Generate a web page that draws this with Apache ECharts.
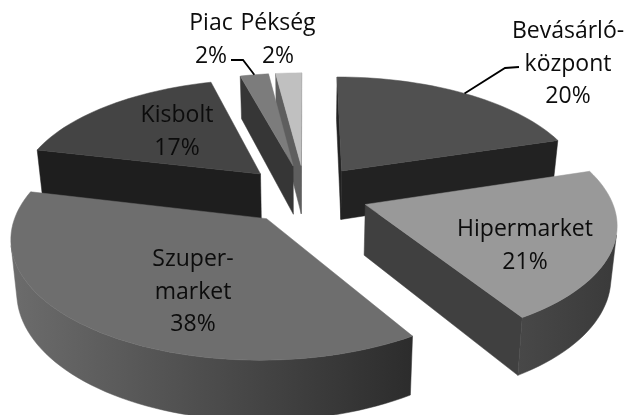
<!DOCTYPE html>
<html>
<head>
<meta charset="utf-8">
<style>
html,body{margin:0;padding:0;background:#fff;}
#chart{width:624px;height:415px;}
</style>
<script src="https://cdn.jsdelivr.net/npm/echarts@6/dist/echarts.min.js"></script>
</head>
<body>
<div id="chart"></div>
<script>
const names = ['Bevásárló-\nközpont', 'Hipermarket', 'Szuper-\nmarket', 'Kisbolt', 'Piac', 'Pékség'];
const shares = [20.2, 21.0, 37.5, 17.1, 2.2, 2.0];

const topColors = ['#505050', '#999999', '#6e6e6e', '#444444', '#7c7c7c', '#c0c0c0'];
const wallColors = ['#222222', '#404040', '#333333', '#1e1e1e', '#363636', '#5e5e5e'];
const rimColors = [['#222222', '#222222'], ['#484848', '#3a3a3a'], ['#6c6c6c', '#2c2c2c'], ['#1e1e1e', '#1e1e1e'], ['#363636', '#363636'], ['#5e5e5e', '#5e5e5e']];
const labelCenters = [[568, 64], [525, 246], [193, 292], [177, 132], [211, 40], [278, 40]];
//only two labels sit off their slice
const leaderElbows = {0: [[519, 67], [505, 68]], 4: [[231, 60], [243, 60]]};

//projection of the tilted pie, fitted on the picture
const cx = 305, cy = 194, radiusX = 244.5, radiusY = 113.5;
const perspective = 0.143, explode = 0.26, thickness = 50, bottomShrink = 0.98;

const total = shares.reduce((a, b) => a + b, 0);
const toRad = Math.PI / 180;
let acc = 0;
const slices = shares.map(function (v) {
    const start = acc / total * 360;
    acc += v;
    return {start, end: acc / total * 360, mid: (start + acc / total * 360) / 2};
});

function project(u, v, down) {
    const d = 1 + perspective * v;
    let x = radiusX * u / d;
    let y = cy - radiusY * v / d;
    if (down) {
        x *= bottomShrink;
        y += thickness / d;
    }
    return [cx + x, y];
}
//r=0 is the tip of the slice, r=1 the rim
function slicePoint(s, angle, r, down) {
    const ou = explode * Math.sin(s.mid * toRad);
    const ov = explode * Math.cos(s.mid * toRad);
    return project(ou + r * Math.sin(angle * toRad), ov + r * Math.cos(angle * toRad), down);
}
//clockwise on screen means the face looks at us
function facing(pts) {
    let area = 0;
    pts.forEach(function (p, i) {
        const q = pts[(i + 1) % pts.length];
        area += p[0] * q[1] - q[0] * p[1];
    });
    return area > 0;
}
function face(points, fill) {
    return {
        type: 'polygon',
        shape: {points},
        style: {fill, stroke: fill, lineWidth: 0.5}
    };
}
function renderSlice(params) {
    const i = params.dataIndex;
    const s = slices[i];
    const children = [];
    const tip = slicePoint(s, s.mid, 0, false);
    const tipDown = slicePoint(s, s.mid, 0, true);
    const steps = Math.max(4, Math.round((s.end - s.start) / 2));
    const angles = [];
    for (let k = 0; k <= steps; k++) {
        angles.push(s.start + (s.end - s.start) * k / steps);
    }
    const rim = angles.map(a => slicePoint(s, a, 1, false));
    const rimDown = angles.map(a => slicePoint(s, a, 1, true));

    const startWall = [rim[0], tip, tipDown, rimDown[0]];
    const endWall = [tip, rim[steps], rimDown[steps], tipDown];
    if (facing(startWall)) children.push(face(startWall, wallColors[i]));
    if (facing(endWall)) children.push(face(endWall, wallColors[i]));

    //outer wall, only the part turned towards us
    const top = [], bottom = [];
    for (let k = 0; k < steps; k++) {
        if (facing([rim[k + 1], rim[k], rimDown[k], rimDown[k + 1]])) {
            if (!top.length) {
                top.push(rim[k]);
                bottom.push(rimDown[k]);
            }
            top.push(rim[k + 1]);
            bottom.push(rimDown[k + 1]);
        }
    }
    if (top.length) {
        children.push(face(top.concat(bottom.reverse()), new echarts.graphic.LinearGradient(0, 0, 1, 0, [
            {offset: 0, color: rimColors[i][0]},
            {offset: 1, color: rimColors[i][1]}
        ])));
    }
    children.push(face([tip].concat(rim), topColors[i]));
    return {type: 'group', children};
}
function renderLabel(params) {
    const i = params.dataIndex;
    const s = slices[i];
    const children = [];
    if (leaderElbows[i]) {
        children.push({
            type: 'polyline',
            shape: {points: leaderElbows[i].concat([slicePoint(s, s.mid, 1, false)])},
            style: {stroke: '#000', lineWidth: 1.8, fill: null}
        });
    }
    children.push({
        type: 'text',
        style: {
            text: names[i] + '\n' + Math.round(shares[i]) + '%',
            x: labelCenters[i][0],
            y: labelCenters[i][1],
            align: 'center',
            verticalAlign: 'middle',
            fill: '#0c0c0c',
            font: '23px "Open Sans"',
            lineHeight: 32.5
        }
    });
    return {type: 'group', children};
}

//back to front, so nearer slices cover the ones behind them
const drawOrder = slices.map((s, i) => i).sort(function (a, b) {
    return Math.cos(slices[b].mid * toRad) - Math.cos(slices[a].mid * toRad);
});

const chart = echarts.init(document.getElementById('chart'));
chart.setOption({
    animation: false,
    backgroundColor: '#fff',
    series: [{
        type: 'custom',
        coordinateSystem: 'none',
        silent: true,
        z: 1,
        data: shares,
        renderItem: function (params) {
            return renderSlice({dataIndex: drawOrder[params.dataIndex]});
        }
    }, {
        type: 'custom',
        coordinateSystem: 'none',
        silent: true,
        z: 2,
        data: shares,
        renderItem: renderLabel
    }]
});
</script>
</body>
</html>
